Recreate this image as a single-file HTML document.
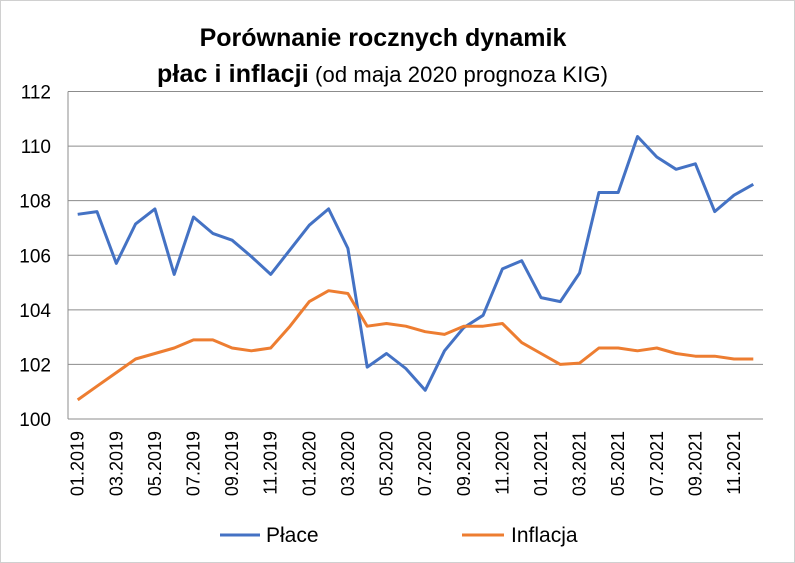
<!DOCTYPE html>
<html><head><meta charset="utf-8"><style>
body{margin:0;background:#fff}
svg{display:block;font-family:"Liberation Sans",Arial,sans-serif}
</style></head><body>
<svg id="s" width="795" height="563" xmlns="http://www.w3.org/2000/svg">
<rect x="0.5" y="0.5" width="794" height="562" fill="#fff" stroke="#d0d0d0"/>
<text x="383" y="46" text-anchor="middle" font-size="25" font-weight="bold" fill="#000">Porównanie rocznych dynamik</text>
<text x="157" y="82" font-size="25" fill="#000" textLength="451"><tspan font-weight="bold">płac i inflacji</tspan><tspan font-size="22"> (od maja 2020 prognoza KIG)</tspan></text>
<g id="grid" stroke="#8c8c8c" stroke-width="1"></g>
<g id="ylab" font-size="19" fill="#000" text-anchor="end"></g>
<g id="xlab" font-size="18" fill="#000"></g>
<polyline id="pl" fill="none" stroke="#4472C4" stroke-width="3" stroke-linejoin="round"/>
<polyline id="inf" fill="none" stroke="#ED7D31" stroke-width="3" stroke-linejoin="round"/>
<line x1="220" y1="535" x2="260" y2="535" stroke="#4472C4" stroke-width="3"/>
<text x="266" y="542" font-size="21">Płace</text>
<line x1="462" y1="535" x2="504" y2="535" stroke="#ED7D31" stroke-width="3"/>
<text x="511" y="542" font-size="21">Inflacja</text>
</svg>
<script>
var NS="http://www.w3.org/2000/svg";
function el(t,a,p,txt){var e=document.createElementNS(NS,t);for(var k in a)e.setAttribute(k,a[k]);if(txt)e.textContent=txt;document.getElementById(p).appendChild(e);return e;}
var L=68,R=763,T=91.5,B=419,u=(B-T)/12;
for(var v=100;v<=112;v+=2){var y=B-(v-100)*u;el("line",{x1:L,x2:R,y1:y,y2:y},"grid");el("text",{x:51,y:y+7},"ylab",String(v));}
el("line",{x1:L,x2:L,y1:T,y2:B},"grid");
var p=[107.5,107.6,105.7,107.15,107.7,105.3,107.4,106.8,106.55,105.95,105.3,106.2,107.1,107.7,106.25,101.9,102.4,101.85,101.05,102.5,103.35,103.8,105.5,105.8,104.45,104.3,105.35,108.3,108.3,110.35,109.6,109.15,109.35,107.6,108.2,108.6];
var f=[100.7,101.2,101.7,102.2,102.4,102.6,102.9,102.9,102.6,102.5,102.6,103.4,104.3,104.7,104.6,103.4,103.5,103.4,103.2,103.1,103.4,103.4,103.5,102.8,102.4,102.0,102.05,102.6,102.6,102.5,102.6,102.4,102.3,102.3,102.2,102.2];
var dx=(R-L)/36;
function pts(a){return a.map(function(v,i){return (L+dx*(i+0.5)).toFixed(1)+","+(B-(v-100)*u).toFixed(1)}).join(" ");}
document.getElementById("pl").setAttribute("points",pts(p));
document.getElementById("inf").setAttribute("points",pts(f));
for(var i=0;i<36;i+=2){var m=(i%12)+1,yr=2019+Math.floor(i/12);var x=L+dx*(i+0.5)+6;
el("text",{x:0,y:0,"text-anchor":"end",transform:"translate("+x+",431) rotate(-90)"},"xlab",(m<10?"0":"")+m+"."+yr);}
</script>
</body></html>
